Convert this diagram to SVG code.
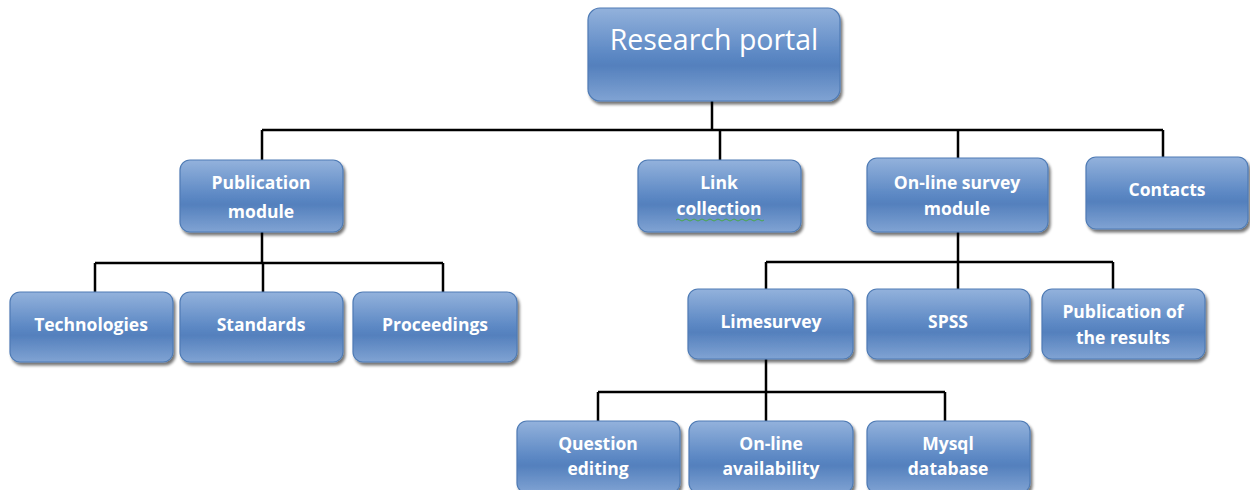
<svg xmlns="http://www.w3.org/2000/svg" width="1250" height="490" viewBox="0 0 1250 490">
<defs>
<linearGradient id="g" x1="0" y1="0" x2="0" y2="1">
<stop offset="0" stop-color="#93b2dc"/>
<stop offset="0.5" stop-color="#5c88c4"/>
<stop offset="0.62" stop-color="#5480bd"/>
<stop offset="1" stop-color="#80a3d3"/>
</linearGradient>
<filter id="sh" x="-10%" y="-10%" width="125%" height="130%">
<feGaussianBlur in="SourceAlpha" stdDeviation="1.5"/>
<feOffset dx="2" dy="3" result="b"/>
<feComponentTransfer><feFuncA type="linear" slope="0.55"/></feComponentTransfer>
<feMerge><feMergeNode/><feMergeNode in="SourceGraphic"/></feMerge>
</filter>
</defs>
<style>
.box{fill:url(#g);stroke:#4f7bb5;stroke-width:1.2;filter:url(#sh)}
.t{font-family:"Open Sans","Liberation Sans",sans-serif;font-weight:bold;font-size:17.5px;fill:#ffffff;text-anchor:middle}
.big{font-family:"Open Sans","Liberation Sans",sans-serif;font-size:28.5px;fill:#ffffff;text-anchor:middle}
.c{fill:none;stroke:#000000;stroke-width:2.5}
</style>
<rect width="1250" height="490" fill="#ffffff"/>
<g id="connectors">
<path class="c" d="M712 101V130M262 130H1163M262 130V160M720 130V160M958 130V158M1163 130V157"/>
<path class="c" d="M262 232V263M95 263H443M95 263V292M263 263V292M443 263V292"/>
<path class="c" d="M958 232V262M766 262H1113M766 262V289M958 262V289M1113 262V289"/>
<path class="c" d="M766 359V392M598 392H945M598 392V421M766 392V421M945 392V421"/>
</g>
<g id="research-portal"><rect class="box" x="588" y="8" width="252" height="93" rx="12"/><text class="big" x="714" y="50">Research portal</text></g>
<g id="publication-module"><rect class="box" x="180" y="160" width="163" height="72" rx="10"/><text class="t" x="261" y="189">Publication</text><text class="t" x="261" y="218">module</text></g>
<g id="link-collection"><rect class="box" x="638" y="160" width="163" height="72" rx="10"/><text class="t" x="719" y="189">Link</text><text class="t" x="719" y="215">collection</text><path d="M676 220q2-2 4 0t4 0t4 0t4 0t4 0t4 0t4 0t4 0t4 0t4 0t4 0t4 0t4 0t4 0t4 0t4 0t4 0t4 0t4 0t4 0t4 0t4 0" fill="none" stroke="#4aa84a" stroke-width="1"/></g>
<g id="online-survey-module"><rect class="box" x="867" y="158" width="181" height="74" rx="10"/><text class="t" x="957" y="189">On-line survey</text><text class="t" x="957" y="215">module</text></g>
<g id="contacts"><rect class="box" x="1086" y="157" width="162" height="72" rx="10"/><text class="t" x="1167" y="196">Contacts</text></g>
<g id="technologies"><rect class="box" x="10" y="292" width="163" height="70" rx="10"/><text class="t" x="91" y="331">Technologies</text></g>
<g id="standards"><rect class="box" x="180" y="292" width="163" height="70" rx="10"/><text class="t" x="261" y="331">Standards</text></g>
<g id="proceedings"><rect class="box" x="353" y="292" width="164" height="70" rx="10"/><text class="t" x="435" y="331">Proceedings</text></g>
<g id="limesurvey"><rect class="box" x="688" y="289" width="165" height="70" rx="10"/><text class="t" x="771" y="328">Limesurvey</text></g>
<g id="spss"><rect class="box" x="867" y="289" width="163" height="70" rx="10"/><text class="t" x="948" y="328">SPSS</text></g>
<g id="publication-results"><rect class="box" x="1042" y="289" width="163" height="70" rx="10"/><text class="t" x="1123" y="318">Publication of</text><text class="t" x="1123" y="344">the results</text></g>
<g id="question-editing"><rect class="box" x="517" y="421" width="163" height="72" rx="10"/><text class="t" x="598" y="450">Question</text><text class="t" x="598" y="475">editing</text></g>
<g id="online-availability"><rect class="box" x="689" y="421" width="164" height="72" rx="10"/><text class="t" x="771" y="450">On-line</text><text class="t" x="771" y="475">availability</text></g>
<g id="mysql-database"><rect class="box" x="867" y="421" width="163" height="72" rx="10"/><text class="t" x="948" y="450">Mysql</text><text class="t" x="948" y="475">database</text></g>
</svg>
